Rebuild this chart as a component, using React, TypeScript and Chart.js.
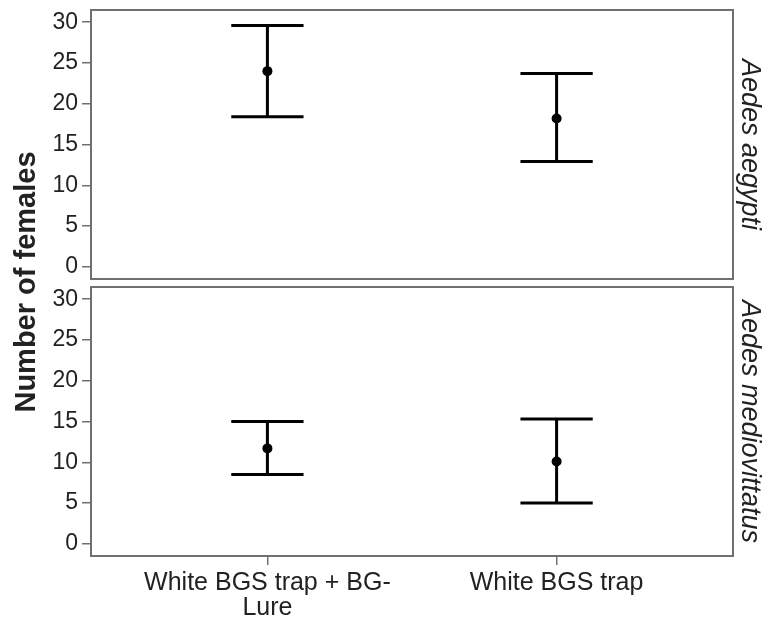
import React, { useEffect, useRef } from 'react';
import { Chart, registerables } from 'chart.js';

Chart.register(...registerables);

// ---- data ----
const categories: string[][] = [['White BGS trap + BG-', 'Lure'], ['White BGS trap']];
const yTicks = [0, 5, 10, 15, 20, 25, 30];
const panelTitles = ['Aedes aegypti', 'Aedes mediovittatus'];
const yAxisTitle = 'Number of females';

const aegyptiMean = [24.0, 18.2];
const aegyptiLower = [18.4, 12.9];
const aegyptiUpper = [29.6, 23.7];

const medioMean = [11.7, 10.1];
const medioLower = [8.5, 5.0];
const medioUpper = [15.0, 15.3];

// ---- style ----
const FONT = "'Liberation Sans', Arial, sans-serif";
const CAP = 0.125;
const X_MIN = -0.61;
const X_MAX = 1.61;
const Y_MIN = -1.5;
const Y_MAX = 31.5;
const FRAME = '#707070';
const TEXT = '#222222';

function errorBarPoints(lower: number[], upper: number[]) {
  const pts: { x: number; y: number | null }[] = [];
  lower.forEach((lo, i) => {
    const hi = upper[i];
    pts.push(
      { x: i, y: lo }, { x: i, y: hi }, { x: i, y: null },
      { x: i - CAP, y: hi }, { x: i + CAP, y: hi }, { x: i, y: null },
      { x: i - CAP, y: lo }, { x: i + CAP, y: lo }, { x: i, y: null }
    );
  });
  return pts;
}

const boxPlugin = {
  id: 'panelBox',
  afterDatasetsDraw(chart: any) {
    const { ctx, chartArea } = chart;
    const { left, top, right, bottom } = chartArea;
    ctx.save();
    ctx.strokeStyle = FRAME;
    ctx.lineWidth = 2;
    ctx.strokeRect(left, top, right - left, bottom - top);
    ctx.restore();
  },
};

function makeConfig(mean: number[], lower: number[], upper: number[], title: string, showX: boolean): any {
  return {
    type: 'line',
    data: {
      datasets: [
        {
          data: errorBarPoints(lower, upper),
          borderColor: '#000',
          borderWidth: 3,
          pointRadius: 0,
          spanGaps: false,
          fill: false,
        },
        {
          data: mean.map((m, i) => ({ x: i, y: m })),
          showLine: false,
          pointRadius: 5,
          pointBackgroundColor: '#000',
          pointBorderWidth: 0,
          borderColor: '#000',
        },
      ],
    },
    options: {
      animation: false,
      responsive: false,
      events: [],
      layout: { padding: { top: 10, bottom: 0, left: 0, right: 0 } },
      plugins: { legend: { display: false }, tooltip: { enabled: false } },
      scales: {
        x: {
          type: 'linear',
          display: true,
          position: 'bottom',
          min: X_MIN,
          max: X_MAX,
          afterBuildTicks: (s: any) => {
            s.ticks = categories.map((_, i) => ({ value: i }));
          },
          afterFit: (s: any) => {
            s.height = showX ? 71 : 1;
            s.paddingLeft = 0;
            s.paddingRight = 0;
          },
          grid: { drawOnChartArea: false, drawTicks: showX, tickLength: 9, color: FRAME, lineWidth: 1.5 },
          border: { display: false },
          ticks: {
            display: showX,
            autoSkip: false,
            maxRotation: 0,
            minRotation: 0,
            padding: 6,
            color: TEXT,
            font: { family: FONT, size: 25, lineHeight: '25px' },
            callback: (v: number) => categories[Math.round(v)] ?? '',
          },
        },
        y: {
          type: 'linear',
          position: 'left',
          min: Y_MIN,
          max: Y_MAX,
          afterBuildTicks: (s: any) => {
            s.ticks = yTicks.map((v) => ({ value: v }));
          },
          afterFit: (s: any) => {
            s.width = 91;
            s.paddingTop = 0;
            s.paddingBottom = 0;
          },
          grid: { drawOnChartArea: false, drawTicks: true, tickLength: 9, color: FRAME, lineWidth: 1.5 },
          border: { display: false },
          ticks: {
            padding: 4,
            color: TEXT,
            font: { family: FONT, size: 23 },
          },
        },
        y2: {
          type: 'linear',
          position: 'right',
          display: true,
          afterFit: (s: any) => {
            s.width = 33;
            s.paddingTop = 0;
            s.paddingBottom = 0;
          },
          grid: { display: false, drawTicks: false },
          border: { display: false },
          ticks: { display: false },
          title: {
            display: true,
            text: title,
            color: TEXT,
            padding: 0,
            font: { family: FONT, size: 27, style: 'italic', lineHeight: 1.2 },
          },
        },
      },
    },
    plugins: [boxPlugin],
  };
}

export default function App() {
  const topRef = useRef<HTMLCanvasElement>(null);
  const botRef = useRef<HTMLCanvasElement>(null);

  useEffect(() => {
    const c1 = new Chart(topRef.current as HTMLCanvasElement, makeConfig(aegyptiMean, aegyptiLower, aegyptiUpper, panelTitles[0], false));
    const c2 = new Chart(botRef.current as HTMLCanvasElement, makeConfig(medioMean, medioLower, medioUpper, panelTitles[1], true));
    return () => {
      c1.destroy();
      c2.destroy();
    };
  }, []);

  return (
    <div style={{ position: 'fixed', left: 0, top: 0, width: 766, height: 627, background: '#fff', overflow: 'hidden' }}>
      <canvas ref={topRef} width={766} height={284} style={{ position: 'absolute', left: 0, top: 0, width: 766, height: 284 }} />
      <canvas ref={botRef} width={766} height={350} style={{ position: 'absolute', left: 0, top: 277, width: 766, height: 350 }} />
      <div
        style={{
          position: 'absolute',
          left: 25 - 200,
          top: 282 - 16,
          width: 400,
          height: 32,
          lineHeight: '32px',
          textAlign: 'center',
          transform: 'rotate(-90deg)',
          transformOrigin: '50% 50%',
          fontFamily: FONT,
          fontWeight: 'bold',
          fontSize: 29,
          color: TEXT,
          whiteSpace: 'nowrap',
        }}
      >
        {yAxisTitle}
      </div>
    </div>
  );
}
